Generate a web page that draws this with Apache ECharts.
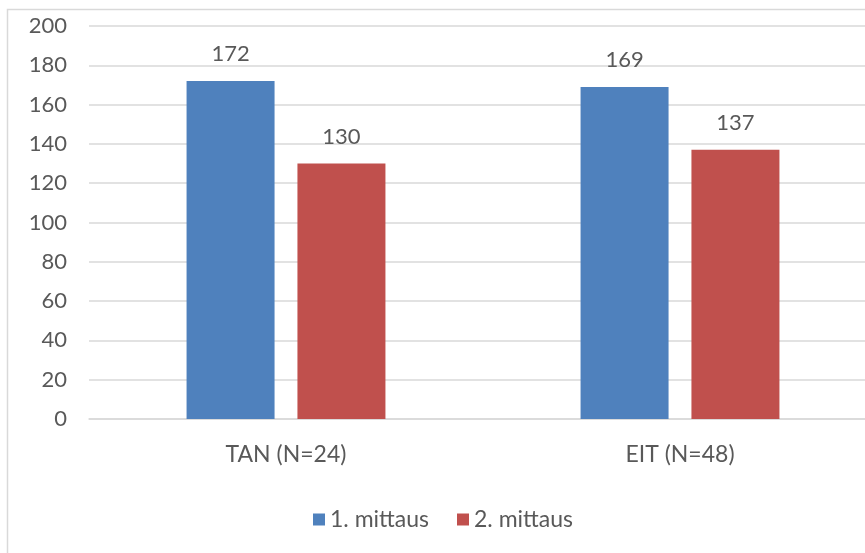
<!DOCTYPE html>
<html>
<head>
<meta charset="utf-8">
<script src="https://cdn.jsdelivr.net/npm/echarts@6/dist/echarts.min.js"></script>
<style>
  html, body { margin: 0; padding: 0; background: #fff; }
  #chart { width: 865px; height: 553px; }
</style>
</head>
<body>
<div id="chart"></div>
<script>
// Measurement groups and their results
const categories = ['TAN (N=24)', 'EIT (N=48)'];
const seriesNames = ['1. mittaus', '2. mittaus'];
const firstMeasure = [172, 169];
const secondMeasure = [130, 137];
const yTicks = { min: 0, max: 200, interval: 20 };

const textColor = '#595959';
const fontFamily = 'Lato, "Open Sans", sans-serif';

const chart = echarts.init(document.getElementById('chart'));

const labelStyle = {
  show: true,
  position: 'top',
  distance: 16,
  color: textColor,
  fontSize: 22,
  fontFamily: fontFamily
};

chart.setOption({
  animation: false,
  backgroundColor: '#ffffff',
  graphic: [{
    type: 'rect',
    shape: { x: 7.5, y: 9.5, width: 900, height: 600 },
    style: { fill: 'none', stroke: '#d9d9d9', lineWidth: 1.5 },
    silent: true
  }],
  // plot area runs past the right edge of the canvas
  grid: { left: 89, width: 788, top: 26, bottom: 134, outerBoundsMode: 'none', containLabel: false },
  legend: {
    data: seriesNames,
    left: 313,
    top: 508,
    padding: 0,
    icon: 'rect',
    itemWidth: 12,
    itemHeight: 12,
    itemGap: 28,
    textStyle: { color: textColor, fontSize: 23, fontFamily: fontFamily }
  },
  xAxis: {
    type: 'category',
    data: categories,
    axisLine: { lineStyle: { color: '#d9d9d9', width: 1.5 } },
    axisTick: { show: false },
    axisLabel: { color: textColor, fontSize: 23, fontFamily: fontFamily, margin: 24 }
  },
  yAxis: {
    type: 'value',
    min: yTicks.min,
    max: yTicks.max,
    interval: yTicks.interval,
    axisLine: { show: false },
    axisTick: { show: false },
    splitLine: { lineStyle: { color: '#d9d9d9', width: 1.5 } },
    axisLabel: { color: textColor, fontSize: 22, fontFamily: fontFamily, margin: 22 }
  },
  series: [
    {
      name: seriesNames[0],
      type: 'bar',
      data: firstMeasure,
      barWidth: 88,
      barGap: '26%',
      itemStyle: { color: '#4f81bd' },
      label: labelStyle
    },
    {
      name: seriesNames[1],
      type: 'bar',
      data: secondMeasure,
      barWidth: 88,
      barGap: '26%',
      itemStyle: { color: '#c0504d' },
      label: labelStyle
    }
  ]
});
</script>
</body>
</html>
